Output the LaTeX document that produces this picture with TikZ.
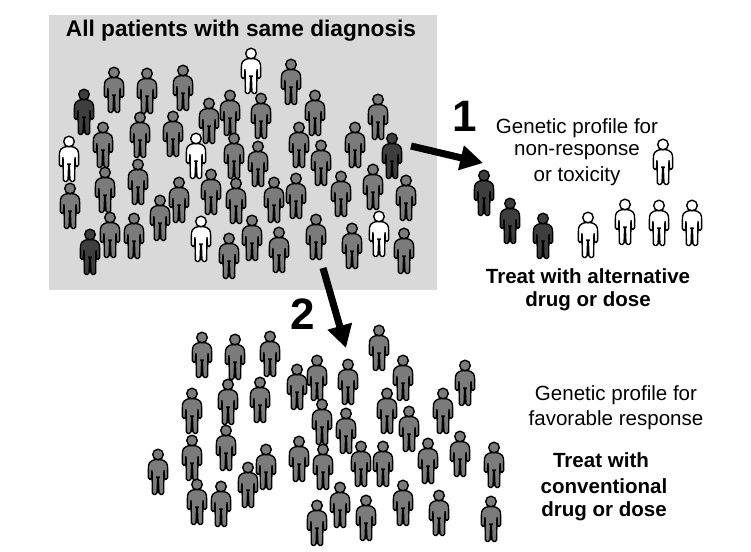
\documentclass[tikz,border=0pt]{standalone}
\usepackage{fontspec}
\setmainfont{Liberation Sans}
\usetikzlibrary{arrows.meta}
\definecolor{panelgray}{HTML}{D9D9D9}
\definecolor{pgray}{HTML}{7B7B7B}
\definecolor{pdark}{HTML}{3E3E3E}
\tikzset{
  person/.pic={
    \path[draw=black,line width=1.05pt,fill=#1,rounded corners=1.2pt,line join=round]
      (-3,-11.5) -- (-7,-10) -- (-9.5,-7) -- (-9.7,8) -- (-6.6,9) -- (-6,-2)
      -- (-5.6,23.5) -- (-1,23.5) -- (-0.3,6) -- (0.3,6) -- (1,23.5) -- (5.6,23.5) -- (6,-2)
      -- (6.6,9) -- (9.7,8) -- (9.5,-7) -- (7,-10) -- (3,-11.5) -- cycle;
    \draw[line width=0.7pt,black] (0,6) -- (0,22);
    \path[draw=black,line width=1.05pt,fill=#1] (0,-16.5) circle[radius=5.3];
  },
  bigarrow/.style={line width=5.3pt,black,-{Triangle[length=17pt,width=18pt]}},
  plain/.style={font=\fontsize{15.4}{18}\selectfont,align=center,inner sep=0pt},
  boldlbl/.style={font=\fontsize{15.4}{18}\selectfont\bfseries,align=center,inner sep=0pt},
  titlelbl/.style={font=\fontsize{17}{20}\selectfont\bfseries,inner sep=0pt},
  numlbl/.style={font=\fontsize{33}{34}\selectfont\bfseries,inner sep=0pt},
}
\begin{document}
\begin{tikzpicture}[x=0.75pt,y=-0.75pt]
\useasboundingbox (0,0) rectangle (751,551);
\fill[white] (0,0) rectangle (751,551);
\node[fill=panelgray,inner sep=0pt,minimum width=0.75*388pt,minimum height=0.75*275pt,anchor=north west] (panel) at (49,15) {};
\node[titlelbl] (title) at (241,31) {All patients with same diagnosis};
% gray people in panel
\foreach \x/\y in {114/89,147/90,183/87,291/81,140/134,173/133,209/120,230/112,261/115,315/112,378/116,103/144,234/155,258/163,299/144,321/162,355/144,138/181,105/189,70/205,179/199,211/191,236/200,274/199,296/195,341/193,373/186,406/197,160/217,110/234,134/235,252/237,229/255,279/249,316/236,352/245,404/250}
  \pic at (\x,\y) {person=pgray};
\foreach \x/\y in {84/111,392/155,90/251,484/192,510/220,543/235}
  \pic at (\x,\y) {person=pdark};
\foreach \x/\y in {251/70,69/158,196/155,201/238,379/233,588/234,625/221,659/222,692/222,663/161}
  \pic at (\x,\y) {person=white};
% lower group
\foreach \x/\y in {202/354,235/356,270/353,379/347,297/386,317/377,348/381,403/377,465/382,192/410,228/401,260/399,322/421,346/430,387/410,409/428,443/410,226/447,192/457,158/471,266/466,299/458,323/466,361/463,383/463,428/460,460/453,494/464,197/501,221/503,248/484,317/522,340/504,366/517,403/502,439/512,491/518}
  \pic at (\x,\y) {person=pgray};
% arrows
\coordinate (a1s) at (411,146);
\coordinate (a1e) at (483,163);
\coordinate (a2s) at (323,268);
\coordinate (a2e) at (346,348);
\draw[bigarrow] (a1s) -- (a1e);
\draw[bigarrow] (a2s) -- (a2e);
\node[numlbl] (n1) at (465,116) {1};
\node[numlbl] (n2) at (303,314) {2};
\node[plain] (t1a) at (577,128) {Genetic profile for};
\node[plain] (t1b) at (577,152) {non-response};
\node[plain] (t1c) at (577,176) {or toxicity};
\node[boldlbl] (t2a) at (588,276) {Treat with alternative};
\node[boldlbl] (t2b) at (588,301) {drug or dose};
\node[plain] (t3a) at (616,395) {Genetic profile for};
\node[plain] (t3b) at (616,420) {favorable response};
\node[boldlbl] (t4a) at (601,460) {Treat with};
\node[boldlbl] (t4b) at (604,486) {conventional};
\node[boldlbl] (t4c) at (604,511) {drug or dose};
\end{tikzpicture}
\end{document}
